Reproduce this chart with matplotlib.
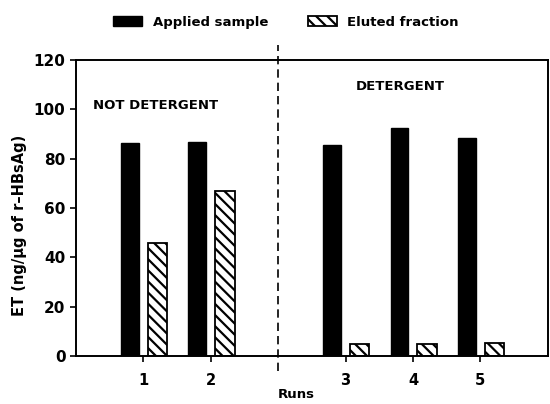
import numpy as np
import matplotlib.pyplot as plt

runs = ['1', '2', '3', '4', '5']
run_pos = [1, 2, 4, 5, 6]
applied = [86.5, 86.7, 85.4, 92.3, 88.6]
eluted = [46.0, 66.8, 4.9, 4.9, 5.2]

plt.rcParams['font.family'] = 'DejaVu Sans'
plt.rcParams['font.weight'] = 'bold'
plt.rcParams['axes.labelweight'] = 'bold'
plt.rcParams['hatch.linewidth'] = 1.6

fig = plt.figure(figsize=(5.5, 4.04), dpi=100)
ax = fig.add_axes([0.138, 0.119, 0.858, 0.732])

x = np.array(run_pos)
ax.bar(x - 0.2, applied, width=0.26, color='black', edgecolor='black',
       label='Applied sample')
ax.bar(x + 0.21, eluted, width=0.29, color='white', edgecolor='black',
       linewidth=1.3, hatch='\\\\\\', label='Eluted fraction')

# divider between the two groups
ax.axvline(3, ymin=-0.05, ymax=1.05, color='black', linestyle=(0, (5, 3)),
           linewidth=1.2, clip_on=False)

ax.text(0.25, 100, 'NOT DETERGENT', fontsize=9.5)
ax.text(4.15, 108, 'DETERGENT', fontsize=9.5)

ax.set_xlim(0, 7)
ax.set_ylim(0, 120)
ax.set_xticks(run_pos)
ax.set_xticklabels(runs, fontsize=10.5)
ax.set_yticks(np.arange(0, 121, 20))
ax.tick_params(axis='y', labelsize=11, length=4, width=1.2)
ax.tick_params(axis='x', length=4, width=1.2, pad=8)
for s in ax.spines.values():
    s.set_linewidth(1.4)

ax.set_ylabel('ET (ng/µg of r\u2013HBsAg)', fontsize=10.5)
ax.yaxis.set_label_coords(-0.104, 0.443)
ax.set_xlabel('Runs', fontsize=9.5)
ax.xaxis.set_label_coords(0.466, -0.11)

handles, labels = ax.get_legend_handles_labels()
fig.legend(handles, labels, loc='upper center', bbox_to_anchor=(0.52, 0.99),
           ncol=2, frameon=False, fontsize=9.5, handlelength=2.2,
           handleheight=0.8, columnspacing=3.0)

fig.savefig('out.png', dpi=100)
